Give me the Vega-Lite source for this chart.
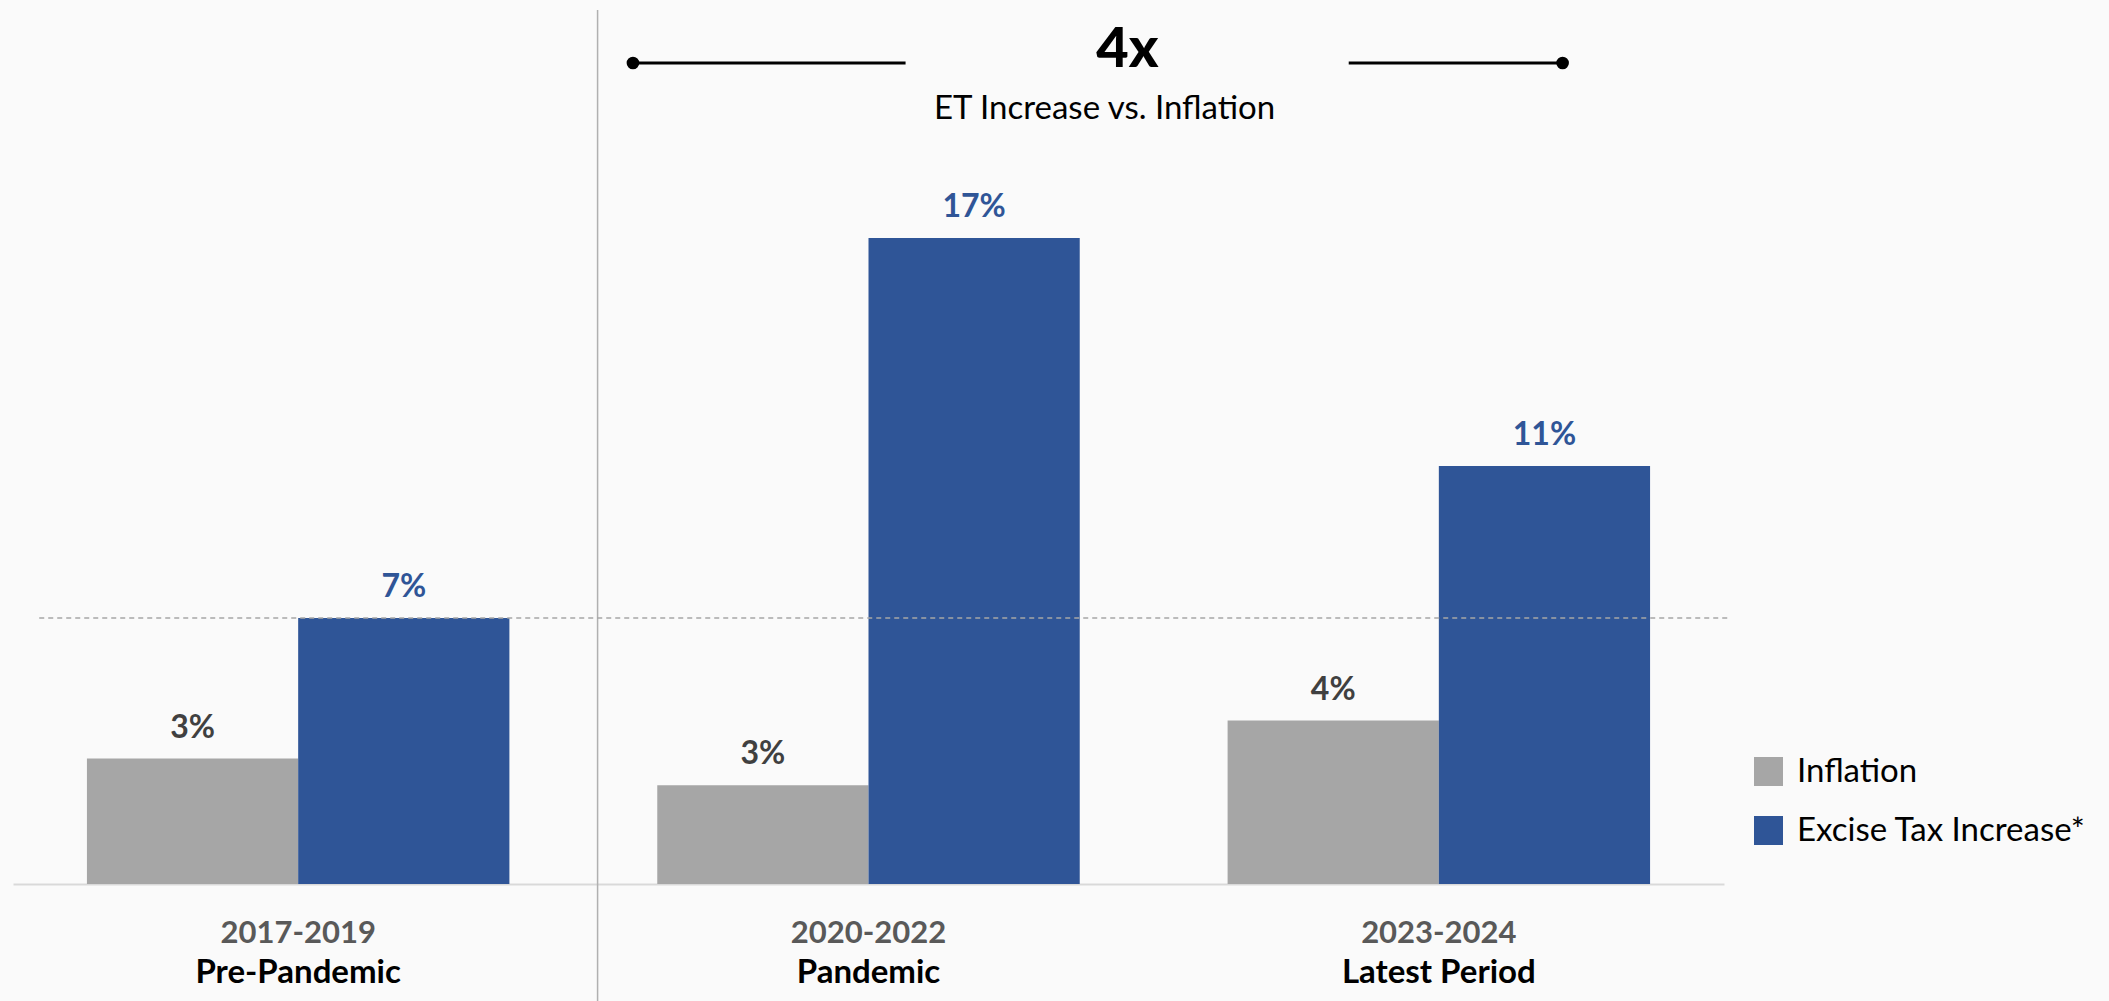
{
  "$schema": "https://vega.github.io/schema/vega-lite/v6.json",
  "width": 1711,
  "height": 884,
  "autosize": {"type": "none"},
  "padding": {"left": 13, "top": 0, "right": 385, "bottom": 117},
  "background": "#fafafa",
  "config": {
    "view": {"stroke": null},
    "font": "Lato",
    "legend": {
      "orient": "none",
      "legendX": 1739,
      "legendY": 755,
      "padding": 0,
      "symbolType": "square",
      "symbolSize": 841,
      "symbolStrokeWidth": 0,
      "symbolOpacity": 1,
      "labelFont": "Lato",
      "labelFontSize": 33,
      "labelColor": "#000000",
      "labelOffset": 12,
      "rowPadding": 25,
      "labelLimit": 400
    }
  },
  "datasets": {
    "bars": [
      {"period": "2017-2019", "phase": "Pre-Pandemic", "series": "Inflation", "value": 0.033},
      {"period": "2017-2019", "phase": "Pre-Pandemic", "series": "Excise Tax Increase*", "value": 0.07},
      {"period": "2020-2022", "phase": "Pandemic", "series": "Inflation", "value": 0.026},
      {"period": "2020-2022", "phase": "Pandemic", "series": "Excise Tax Increase*", "value": 0.17},
      {"period": "2023-2024", "phase": "Latest Period", "series": "Inflation", "value": 0.043},
      {"period": "2023-2024", "phase": "Latest Period", "series": "Excise Tax Increase*", "value": 0.11}
    ],
    "periods": [
      {"period": "2017-2019", "phase": "Pre-Pandemic"},
      {"period": "2020-2022", "phase": "Pandemic"},
      {"period": "2023-2024", "phase": "Latest Period"}
    ]
  },
  "resolve": {"scale": {"x": "independent"}, "axis": {"x": "independent"}},
  "layer": [
    {
      "layer": [
        {
          "data": {"name": "bars"},
          "mark": {"type": "bar"},
          "encoding": {
            "x": {
              "field": "period", "type": "nominal",
              "sort": ["2017-2019", "2020-2022", "2023-2024"],
              "scale": {"paddingInner": 0, "paddingOuter": 0},
              "axis": {"title": null, "labels": false, "ticks": false, "grid": false, "domain": true, "domainColor": "#d9d9d9", "domainWidth": 2}
            },
            "xOffset": {
              "field": "series", "type": "nominal",
              "sort": ["Inflation", "Excise Tax Increase*"],
              "scale": {"paddingInner": 0, "paddingOuter": 0.35}
            },
            "y": {
              "field": "value", "type": "quantitative",
              "scale": {"domain": [0, 0.23263], "nice": false, "zero": true},
              "axis": null
            },
            "color": {
              "field": "series", "type": "nominal",
              "sort": ["Inflation", "Excise Tax Increase*"],
              "scale": {"domain": ["Inflation", "Excise Tax Increase*"], "range": ["#a6a6a6", "#2f5597"]},
              "legend": {"title": null}
            }
          }
        },
        {
          "data": {"name": "bars"},
          "mark": {"type": "text", "fontSize": 32, "fontWeight": "bold", "baseline": "alphabetic", "align": "center", "dy": -21},
          "encoding": {
            "x": {"field": "period", "type": "nominal", "sort": ["2017-2019", "2020-2022", "2023-2024"], "scale": {"paddingInner": 0, "paddingOuter": 0}},
            "xOffset": {"field": "series", "type": "nominal", "sort": ["Inflation", "Excise Tax Increase*"], "scale": {"paddingInner": 0, "paddingOuter": 0.35}},
            "y": {"field": "value", "type": "quantitative"},
            "text": {"field": "value", "type": "quantitative", "format": ".0%"},
            "color": {
              "condition": {"test": "datum.series === 'Inflation'", "value": "#404040"},
              "value": "#2f5597"
            }
          }
        },
        {
          "data": {"name": "periods"},
          "mark": {"type": "text", "fontSize": 31, "fontWeight": "bold", "baseline": "alphabetic", "align": "center", "color": "#595959"},
          "encoding": {
            "x": {"field": "period", "type": "nominal", "sort": ["2017-2019", "2020-2022", "2023-2024"], "scale": {"paddingInner": 0, "paddingOuter": 0}},
            "y": {"datum": -0.01553, "type": "quantitative"},
            "text": {"field": "period"}
          }
        },
        {
          "data": {"name": "periods"},
          "mark": {"type": "text", "fontSize": 33, "fontWeight": "bold", "baseline": "alphabetic", "align": "center", "color": "#000000"},
          "encoding": {
            "x": {"field": "period", "type": "nominal", "sort": ["2017-2019", "2020-2022", "2023-2024"], "scale": {"paddingInner": 0, "paddingOuter": 0}},
            "y": {"datum": -0.02605, "type": "quantitative"},
            "text": {"field": "phase"}
          }
        }
      ]
    },
    {
      "data": {"values": [{}]},
      "layer": [
        {
          "mark": {"type": "rule", "color": "#b0b0b0", "strokeWidth": 1.5},
          "encoding": {
            "x": {"datum": 1.025, "type": "quantitative", "scale": {"domain": [0, 3], "nice": false, "zero": false}, "axis": null},
            "y": {"datum": 0.23, "type": "quantitative"},
            "y2": {"datum": -0.0308}
          }
        },
        {
          "mark": {"type": "rule", "color": "#a6a6a6", "strokeWidth": 1.5, "strokeDash": [5, 4]},
          "encoding": {
            "x": {"datum": 0.046, "type": "quantitative"},
            "x2": {"datum": 3.01},
            "y": {"datum": 0.07, "type": "quantitative"}
          }
        },
        {
          "mark": {"type": "rule", "color": "#000000", "strokeWidth": 3},
          "encoding": {
            "x": {"datum": 1.087, "type": "quantitative"},
            "x2": {"datum": 1.565},
            "y": {"datum": 0.21605, "type": "quantitative"}
          }
        },
        {
          "mark": {"type": "rule", "color": "#000000", "strokeWidth": 3},
          "encoding": {
            "x": {"datum": 2.342, "type": "quantitative"},
            "x2": {"datum": 2.717},
            "y": {"datum": 0.21605, "type": "quantitative"}
          }
        },
        {
          "mark": {"type": "point", "filled": true, "color": "#000000", "size": 160, "opacity": 1},
          "encoding": {
            "x": {"datum": 1.087, "type": "quantitative"},
            "y": {"datum": 0.21605, "type": "quantitative"}
          }
        },
        {
          "mark": {"type": "point", "filled": true, "color": "#000000", "size": 160, "opacity": 1},
          "encoding": {
            "x": {"datum": 2.717, "type": "quantitative"},
            "y": {"datum": 0.21605, "type": "quantitative"}
          }
        },
        {
          "mark": {"type": "text", "text": "4x", "fontSize": 56, "fontWeight": 900, "align": "center", "baseline": "alphabetic", "color": "#000000"},
          "encoding": {
            "x": {"datum": 1.954, "type": "quantitative"},
            "y": {"datum": 0.215, "type": "quantitative"}
          }
        },
        {
          "mark": {"type": "text", "text": "ET Increase vs. Inflation", "fontSize": 33, "align": "center", "baseline": "alphabetic", "color": "#000000"},
          "encoding": {
            "x": {"datum": 1.914, "type": "quantitative"},
            "y": {"datum": 0.2013, "type": "quantitative"}
          }
        }
      ]
    }
  ]
}
